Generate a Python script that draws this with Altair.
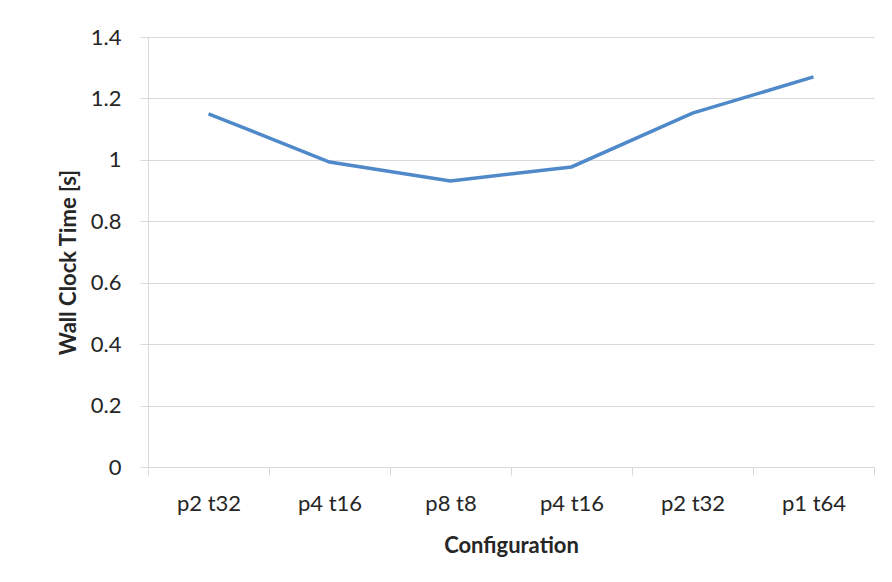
import altair as alt
import pandas as pd

configs = ["p2 t32", "p4 t16", "p8 t8", "p4 t16", "p2 t32", "p1 t64"]
wall_time = [1.15, 0.993, 0.931, 0.977, 1.152, 1.27]

df = pd.DataFrame({
    "idx": list(range(len(configs))),
    "config": configs,
    "time": wall_time,
})

label_array = "[" + ",".join("'" + c + "'" for c in configs) + "]"

FONT = "Lato"
TXT = "#262626"
GRID = "#d9d9d9"

chart = alt.Chart(df).mark_line(color="#4f89c9", strokeWidth=3.5).encode(
    x=alt.X(
        "idx:O",
        scale=alt.Scale(type="band", paddingInner=0, paddingOuter=0),
        axis=alt.Axis(
            title="Configuration",
            labelExpr=label_array + "[datum.value]",
            labelAngle=0,
            tickBand="extent",
            grid=False,
            domainColor=GRID,
            tickColor=GRID,
            tickSize=8,
            labelPadding=18,
            labelFont=FONT,
            labelFontSize=22,
            labelColor=TXT,
            titleFont=FONT,
            titleFontSize=22,
            titleFontWeight="bold",
            titleColor=TXT,
            titleBaseline="middle",
            titleY=78,
        ),
    ),
    y=alt.Y(
        "time:Q",
        scale=alt.Scale(domain=[0, 1.4], nice=False),
        axis=alt.Axis(
            title="Wall Clock Time [s]",
            values=[0, 0.2, 0.4, 0.6, 0.8, 1.0, 1.2, 1.4],
            format="~g",
            gridColor=GRID,
            domainColor=GRID,
            tickColor=GRID,
            tickSize=8,
            labelPadding=19,
            labelFont=FONT,
            labelFontSize=22,
            labelColor=TXT,
            titleFont=FONT,
            titleFontSize=22,
            titleFontWeight="bold",
            titleColor=TXT,
            titleAngle=-90,
            titleBaseline="middle",
            titleAlign="center",
            titleX=-80,
            titleY=225,
        ),
    ),
).properties(
    width=726,
    height=430,
    autosize=alt.AutoSizeParams(type="none"),
    padding={"left": 140, "top": 29, "right": 10, "bottom": 100},
).configure_view(stroke=None)

chart.save("out.html", embed_options={"renderer": "svg", "actions": False})
